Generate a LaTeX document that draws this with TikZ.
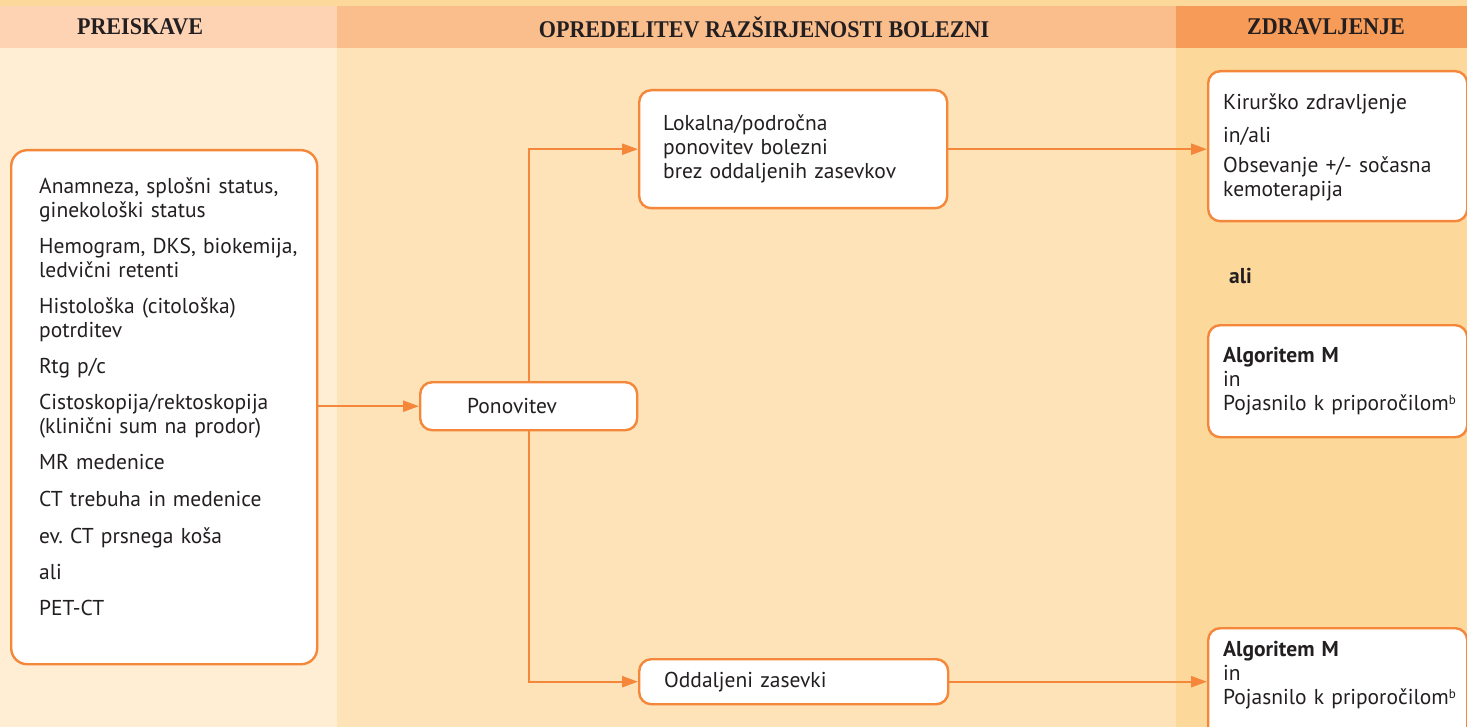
\documentclass[tikz,border=0pt]{standalone}
\usepackage{fontspec}
\setmainfont{PT Sans}
\newfontfamily\headfont[FakeStretch=0.92]{Liberation Serif}
\usetikzlibrary{arrows.meta}

\definecolor{topband}{HTML}{FDD89B}
\definecolor{headA}{HTML}{FDD3B4}
\definecolor{headB}{HTML}{FABD8C}
\definecolor{headC}{HTML}{F79B58}
\definecolor{bodyA}{HTML}{FFEED3}
\definecolor{bodyB}{HTML}{FDE3B7}
\definecolor{bodyC}{HTML}{FDD89B}
\definecolor{lineorange}{HTML}{F4873A}
\definecolor{ink}{HTML}{231F20}

\newcommand{\supb}{\raisebox{0.6ex}{\fontsize{13}{13}\selectfont b}}

\begin{document}
\begin{tikzpicture}[
    x = 1pt, y = -1pt, % one unit per pixel, y runs down
    > = {Triangle[length=16pt,width=11pt]}, % arrow head style
    line width = 2.4pt, % connectors and frames
    every node/.style = {text=ink, font=\fontsize{21.5}{24}\selectfont}
    ]

    \tikzset{box/.style={
    draw = lineorange,
    fill = white,
    rounded corners = 12pt,
    anchor = north west,
    align = left,
    inner ysep = 0pt
    }}
    \tikzset{head/.style={font=\headfont\bfseries\fontsize{24}{26}\selectfont}}

    \clip (0,0) rectangle (1467,727);
    % column backgrounds
    \fill[topband] (0,0) rectangle (1467,6);
    \fill[headA] (0,6) rectangle (337,48);
    \fill[headB] (337,6) rectangle (1176,48);
    \fill[headC] (1176,6) rectangle (1467,48);
    \fill[bodyA] (0,48) rectangle (337,727);
    \fill[bodyB] (337,48) rectangle (1176,727);
    \fill[bodyC] (1176,48) rectangle (1467,727);

    \node[head] (hprei) at (140,27) {PREISKAVE};
    \node[head] (hopre) at (764,27) {OPREDELITEV RAZŠIRJENOSTI BOLEZNI};
    \node[head] (hzdra) at (1326,27) {ZDRAVLJENJE};

    \node[box, rounded corners=16pt, inner xsep=14pt, text width=278pt, minimum height=514pt] (prei) at (10,149)
    {\leftskip=14pt
     Anamneza, splošni status,\\ginekološki status\\[12pt]
     Hemogram, DKS, biokemija,\\ledvični retenti\\[12pt]
     Histološka (citološka)\\potrditev\\[12pt]
     Rtg p/c\\[12pt]
     Cistoskopija/rektoskopija\\(klinični sum na prodor)\\[12pt]
     MR medenice\\[13pt]
     CT trebuha in medenice\\[13pt]
     ev.\ CT prsnega koša\\[12pt]
     ali\\[12pt]
     PET-CT\par\vspace{21pt}};
    \node[box, inner xsep=47pt, text width=123pt, minimum height=48pt] (pon) at (419,381) {Ponovitev};
    \node[box, inner xsep=24pt, text width=260pt, minimum height=118pt] (lok) at (638,89)
    {Lokalna/področna\\ponovitev bolezni\\brez oddaljenih zasevkov};
    \node[box, inner xsep=25pt, text width=259pt, minimum height=45pt] (odd) at (638,658) {Oddaljeni zasevki};

    \node[box, inner xsep=8pt, text width=243pt, minimum height=150pt] (kir) at (1207,70)
    {\leftskip=7pt
     Kirurško zdravljenje\\[9pt]in/ali\\[6pt]Obsevanje +/- sočasna\\kemoterapija\par\vspace{-3pt}};
    \node[anchor=west, inner sep=0pt, font=\fontsize{21.5}{24}\selectfont\bfseries] (ali) at (1228,276) {ali};
    \node[box, inner xsep=8pt, text width=243pt, minimum height=112pt] (algA) at (1207,324)
    {\leftskip=7pt
     \textbf{Algoritem M}\\in\\Pojasnilo k priporočilom\supb\par};
    \node[box, inner xsep=8pt, text width=243pt, minimum height=112pt] (algB) at (1207,627)
    {\leftskip=7pt
     \textbf{Algoritem M}\\in\\Pojasnilo k priporočilom\supb\par\vspace{18pt}};

    \draw[->, lineorange] (prei.east |- pon.west) -- (pon.west);
    \draw[->, lineorange] (pon.north) |- (lok.west);
    \draw[->, lineorange] (pon.south) |- (odd.west);
    \draw[->, lineorange] (lok.east) -- (lok.east -| kir.west);
    \draw[->, lineorange] (odd.east) -- (odd.east -| algB.west);
\end{tikzpicture}
\end{document}
